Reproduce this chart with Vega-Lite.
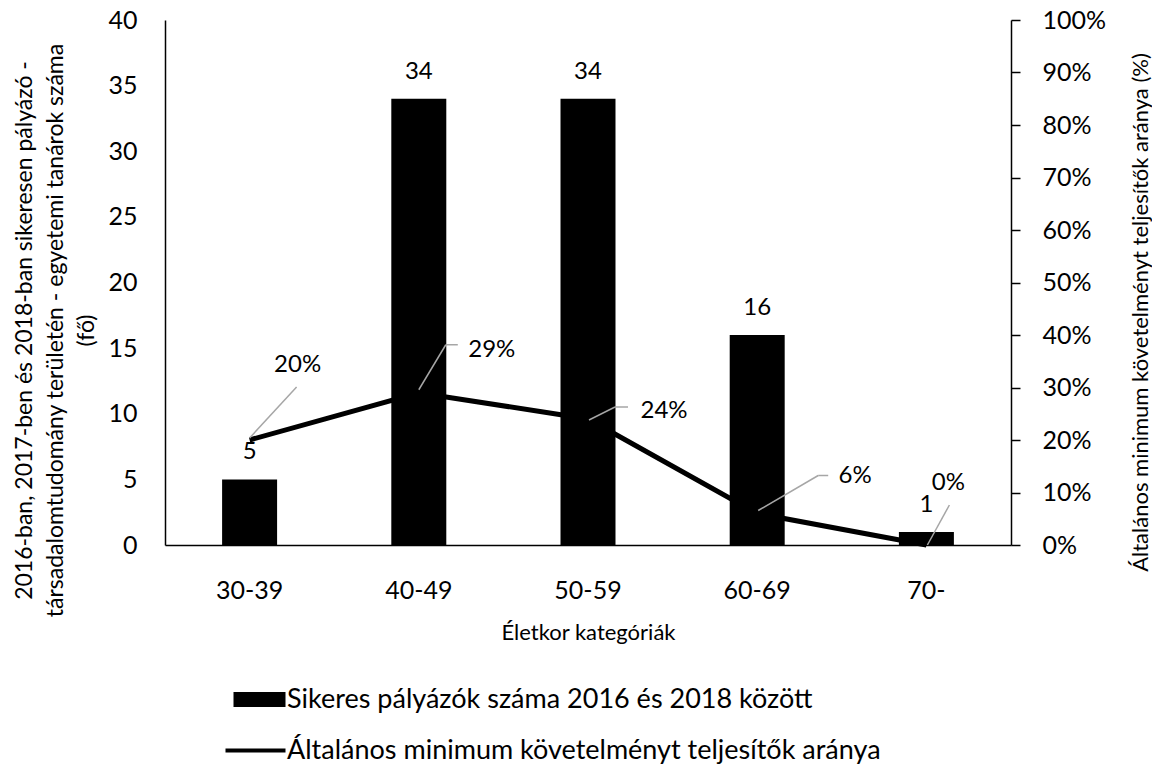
{
  "$schema": "https://vega.github.io/schema/vega-lite/v6.json",
  "autosize": {"type": "none"},
  "width": 846,
  "height": 525,
  "padding": {"left": 165, "top": 20, "right": 141, "bottom": 222},
  "background": "white",
  "config": {
    "font": "Lato",
    "view": {"stroke": null},
    "axis": {"labelColor": "#000", "titleColor": "#000", "domainColor": "#000", "titleFontWeight": "normal", "grid": false, "labelFont": "Lato", "titleFont": "Lato", "labelOverlap": false, "labelFlush": false, "titleLimit": 2000},
    "legend": {"labelFont": "Lato", "labelColor": "#000", "labelLimit": 2000}
  },
  "data": {
    "values": [
      {"cat": "30-39", "n": 5, "pct": 0.20},
      {"cat": "40-49", "n": 34, "pct": 0.29},
      {"cat": "50-59", "n": 34, "pct": 0.24},
      {"cat": "60-69", "n": 16, "pct": 0.06},
      {"cat": "70-", "n": 1, "pct": 0.00}
    ]
  },
  "encoding": {
    "x": {
      "field": "cat", "type": "nominal", "sort": null,
      "scale": {"paddingInner": 0, "paddingOuter": 0},
      "axis": {"orient": "bottom", "ticks": false, "tickSize": 0, "labelPadding": 33, "labelFontSize": 25, "labelAngle": 0, "domainWidth": 1.5,
        "title": "Életkor kategóriák", "titleFontSize": 22, "titleY": 87, "titleBaseline": "middle"}
    }
  },
  "layer": [
    {
      "mark": {"type": "line", "strokeWidth": 5, "strokeCap": "butt"},
      "encoding": {
        "y": {"field": "pct", "type": "quantitative", "scale": {"domain": [0, 1]},
          "axis": {"orient": "right", "values": [0, 0.1, 0.2, 0.3, 0.4, 0.5, 0.6, 0.7, 0.8, 0.9, 1], "format": ".0%", "tickSize": 9, "tickColor": "#000", "tickWidth": 1.5, "domainWidth": 1.5, "labelPadding": 22, "labelFontSize": 25,
            "title": "Általános minimum követelményt teljesítők aránya (%)", "titleFontSize": 22, "titleAngle": -90, "titleX": 129, "titleY": 292, "titleBaseline": "middle", "titleAlign": "center"}},
        "color": {"datum": "Általános minimum követelményt teljesítők aránya", "type": "nominal",
          "scale": {"domain": ["Sikeres pályázók száma 2016 és 2018 között", "Általános minimum követelményt teljesítők aránya"], "range": ["#000000", "#000000"]},
          "legend": {"orient": "none", "legendX": 77, "legendY": 666, "title": null, "padding": 0, "symbolSize": 400, "labelFontSize": 27, "labelOffset": 18, "rowPadding": 23, "labelLimit": 2000,
            "encode": {"symbols": {"update": {
              "shape": {"signal": "datum.index === 1 ? 'M-3,0H3' : 'M-2.2,-0.75H3V0.75H-2.2Z'"},
              "fill": {"signal": "datum.index === 1 ? 'transparent' : '#000000'"},
              "stroke": {"value": "#000000"},
              "strokeWidth": {"signal": "datum.index === 1 ? 4 : 0"},
              "opacity": {"value": 1}
            }}}}}
      }
    },
    {
      "mark": {"type": "bar", "width": {"band": 0.325}, "color": "#000000"},
      "encoding": {
        "y": {"field": "n", "type": "quantitative", "scale": {"domain": [0, 40]},
          "axis": {"orient": "left", "values": [0, 5, 10, 15, 20, 25, 30, 35, 40], "ticks": false, "tickSize": 0, "labelPadding": 28, "labelFontSize": 25, "domainWidth": 1.5,
            "title": ["2016-ban, 2017-ben és 2018-ban sikeresen pályázó -", "társadalomtudomány területén - egyetemi tanárok száma", "(fő)"],
            "titleFontSize": 23, "titleLineHeight": 31, "titleAngle": -90, "titleX": -141, "titleY": 310, "titleBaseline": "middle", "titleAlign": "center"}},
        "color": {"datum": "Sikeres pályázók száma 2016 és 2018 között", "type": "nominal"}
      }
    },
    {
      "mark": {"type": "text", "fontSize": 24, "dy": -27, "baseline": "middle", "color": "#000000"},
      "encoding": {
        "y": {"field": "n", "type": "quantitative", "scale": {"domain": [0, 40]}, "axis": null},
        "text": {"field": "n", "type": "quantitative"}
      }
    },
    {
      "transform": [{"filter": "datum.cat === '30-39'"}],
      "layer": [
        {"mark": {"type": "rule", "color": "#a6a6a6", "strokeWidth": 1.5, "xOffset": 0, "yOffset": -2, "x2Offset": 47, "y2Offset": -53},
          "encoding": {"y": {"field": "pct", "type": "quantitative", "scale": {"domain": [0, 1]}, "axis": null}, "y2": {"field": "pct"}, "x2": {"field": "cat"}}},
        {"mark": {"type": "text", "fontSize": 24, "dx": 48, "dy": -75, "baseline": "middle", "color": "#000000"},
          "encoding": {"y": {"field": "pct", "type": "quantitative", "scale": {"domain": [0, 1]}, "axis": null}, "text": {"field": "pct", "type": "quantitative", "format": ".0%"}}}
      ]
    },
    {
      "transform": [{"filter": "datum.cat === '40-49'"}],
      "layer": [
        {"mark": {"type": "rule", "color": "#a6a6a6", "strokeWidth": 1.5, "xOffset": 0, "yOffset": -3, "x2Offset": 27, "y2Offset": -48},
          "encoding": {"y": {"field": "pct", "type": "quantitative", "scale": {"domain": [0, 1]}, "axis": null}, "y2": {"field": "pct"}, "x2": {"field": "cat"}}},
        {"mark": {"type": "rule", "color": "#a6a6a6", "strokeWidth": 1.5, "xOffset": 27, "yOffset": -48, "x2Offset": 39, "y2Offset": -48},
          "encoding": {"y": {"field": "pct", "type": "quantitative", "scale": {"domain": [0, 1]}, "axis": null}, "y2": {"field": "pct"}, "x2": {"field": "cat"}}},
        {"mark": {"type": "text", "fontSize": 24, "dx": 73, "dy": -43, "baseline": "middle", "color": "#000000"},
          "encoding": {"y": {"field": "pct", "type": "quantitative", "scale": {"domain": [0, 1]}, "axis": null}, "text": {"field": "pct", "type": "quantitative", "format": ".0%"}}}
      ]
    },
    {
      "transform": [{"filter": "datum.cat === '50-59'"}],
      "layer": [
        {"mark": {"type": "rule", "color": "#a6a6a6", "strokeWidth": 1.5, "xOffset": 1, "yOffset": 1, "x2Offset": 27, "y2Offset": -12},
          "encoding": {"y": {"field": "pct", "type": "quantitative", "scale": {"domain": [0, 1]}, "axis": null}, "y2": {"field": "pct"}, "x2": {"field": "cat"}}},
        {"mark": {"type": "rule", "color": "#a6a6a6", "strokeWidth": 1.5, "xOffset": 27, "yOffset": -12, "x2Offset": 40, "y2Offset": -12},
          "encoding": {"y": {"field": "pct", "type": "quantitative", "scale": {"domain": [0, 1]}, "axis": null}, "y2": {"field": "pct"}, "x2": {"field": "cat"}}},
        {"mark": {"type": "text", "fontSize": 24, "dx": 76, "dy": -8, "baseline": "middle", "color": "#000000"},
          "encoding": {"y": {"field": "pct", "type": "quantitative", "scale": {"domain": [0, 1]}, "axis": null}, "text": {"field": "pct", "type": "quantitative", "format": ".0%"}}}
      ]
    },
    {
      "transform": [{"filter": "datum.cat === '60-69'"}],
      "layer": [
        {"mark": {"type": "rule", "color": "#a6a6a6", "strokeWidth": 1.5, "xOffset": 1, "yOffset": -3, "x2Offset": 61, "y2Offset": -38},
          "encoding": {"y": {"field": "pct", "type": "quantitative", "scale": {"domain": [0, 1]}, "axis": null}, "y2": {"field": "pct"}, "x2": {"field": "cat"}}},
        {"mark": {"type": "rule", "color": "#a6a6a6", "strokeWidth": 1.5, "xOffset": 61, "yOffset": -38, "x2Offset": 71, "y2Offset": -38},
          "encoding": {"y": {"field": "pct", "type": "quantitative", "scale": {"domain": [0, 1]}, "axis": null}, "y2": {"field": "pct"}, "x2": {"field": "cat"}}},
        {"mark": {"type": "text", "fontSize": 24, "dx": 98, "dy": -38, "baseline": "middle", "color": "#000000"},
          "encoding": {"y": {"field": "pct", "type": "quantitative", "scale": {"domain": [0, 1]}, "axis": null}, "text": {"field": "pct", "type": "quantitative", "format": ".0%"}}}
      ]
    },
    {
      "transform": [{"filter": "datum.cat === '70-'"}],
      "layer": [
        {"mark": {"type": "rule", "color": "#a6a6a6", "strokeWidth": 1.5, "xOffset": 1, "yOffset": 0, "x2Offset": 23, "y2Offset": -40},
          "encoding": {"y": {"field": "pct", "type": "quantitative", "scale": {"domain": [0, 1]}, "axis": null}, "y2": {"field": "pct"}, "x2": {"field": "cat"}}},
        {"mark": {"type": "text", "fontSize": 24, "dx": 22, "dy": -62, "baseline": "middle", "color": "#000000"},
          "encoding": {"y": {"field": "pct", "type": "quantitative", "scale": {"domain": [0, 1]}, "axis": null}, "text": {"field": "pct", "type": "quantitative", "format": ".0%"}}}
      ]
    }
  ],
  "resolve": {"scale": {"y": "independent"}}
}
